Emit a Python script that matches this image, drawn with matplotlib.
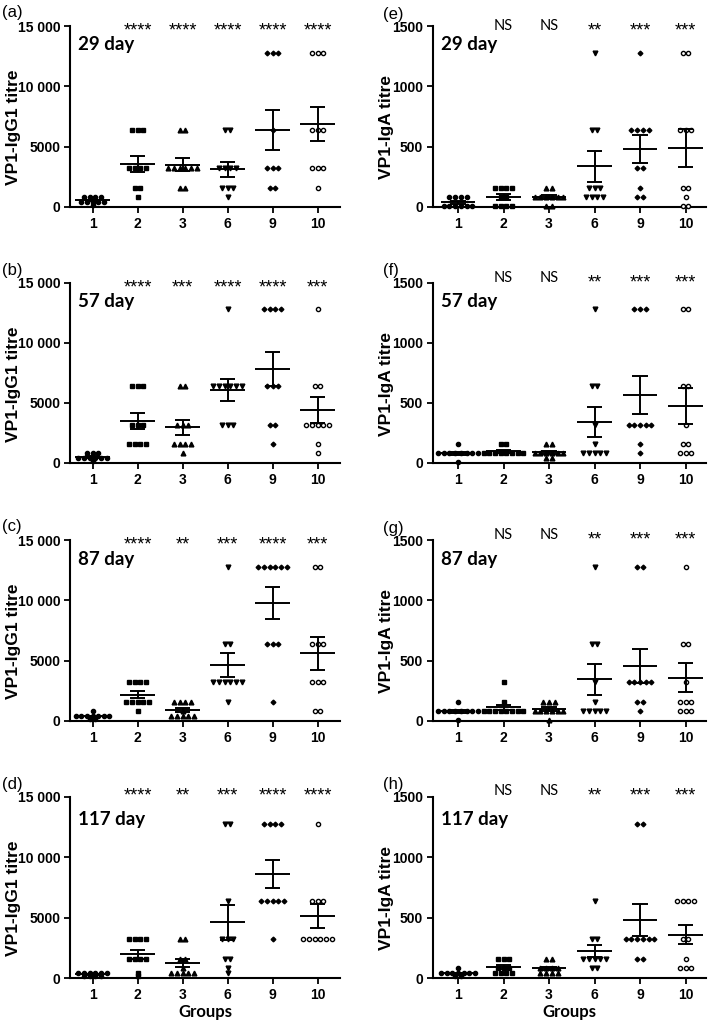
import numpy as np
import matplotlib
matplotlib.use("Agg")
import matplotlib.pyplot as plt

groups = ["1", "2", "3", "6", "9", "10"]
markers = ["o", "s", "^", "v", "D", "o"]
days = ["29 day", "57 day", "87 day", "117 day"]

# IgG1 titres per group (1, 2, 3, 6, 9, 10)
igg1_d29 = [
    [800, 800, 800, 800, 400, 400, 400, 400, 400, 200],
    [6400, 6400, 6400, 3200, 3200, 3200, 3200, 1600, 1600, 800],
    [6400, 6400, 3200, 3200, 3200, 3200, 3200, 3200, 1600, 1600],
    [6400, 6400, 3200, 3200, 3200, 3200, 1600, 1600, 1600, 800],
    [12800, 12800, 12800, 6400, 3200, 3200, 3200, 1600, 1600],
    [12800, 12800, 12800, 6400, 6400, 6400, 3200, 3200, 3200, 1600],
]
igg1_d57 = [
    [800, 800, 800, 400, 400, 400, 400, 400, 400, 200],
    [6400, 6400, 6400, 3200, 3200, 3200, 1600, 1600, 1600, 1600],
    [6400, 6400, 3200, 3200, 3200, 1600, 1600, 1600, 1600, 800],
    [12800, 6400, 6400, 6400, 6400, 6400, 6400, 3200, 3200, 3200],
    [12800, 12800, 12800, 12800, 6400, 6400, 6400, 3200, 3200, 1600],
    [12800, 6400, 6400, 3200, 3200, 3200, 3200, 3200, 1600, 800],
]
igg1_d87 = [
    [800, 400, 400, 400, 400, 400, 400, 400, 200, 200],
    [3200, 3200, 3200, 3200, 1600, 1600, 1600, 1600, 1600, 800],
    [1600, 1600, 1600, 1600, 800, 400, 400, 400, 400, 400],
    [12800, 6400, 6400, 3200, 3200, 3200, 3200, 3200, 3200, 1600],
    [12800, 12800, 12800, 12800, 12800, 12800, 6400, 6400, 6400, 1600],
    [12800, 12800, 6400, 6400, 6400, 3200, 3200, 3200, 800, 800],
]
igg1_d117 = [
    [400, 400, 400, 400, 400, 400, 200, 200, 200, 200],
    [3200, 3200, 3200, 3200, 1600, 1600, 1600, 1600, 400, 200],
    [3200, 3200, 1600, 1600, 800, 400, 400, 400, 400, 400],
    [12800, 12800, 6400, 3200, 3200, 3200, 1600, 1600, 800, 400],
    [12800, 12800, 12800, 12800, 6400, 6400, 6400, 6400, 6400, 3200],
    [12800, 6400, 6400, 6400, 3200, 3200, 3200, 3200, 3200, 3200],
]

# IgA titres per group
iga_d29 = [
    [80, 80, 80, 80, 10, 10, 10, 10, 10, 10],
    [160, 160, 160, 160, 80, 80, 10, 10, 10, 10],
    [160, 160, 80, 80, 80, 80, 80, 80, 10, 10],
    [1280, 640, 640, 160, 160, 160, 80, 80, 80, 80],
    [1280, 640, 640, 640, 640, 320, 320, 160, 80, 80],
    [1280, 1280, 640, 640, 640, 160, 160, 80, 10, 10],
]
iga_d57 = [
    [160, 80, 80, 80, 80, 80, 80, 80, 80, 10],
    [160, 160, 80, 80, 80, 80, 80, 80, 80, 80],
    [160, 160, 80, 80, 80, 80, 80, 80, 40, 40],
    [1280, 640, 640, 320, 160, 80, 80, 80, 80, 80],
    [1280, 1280, 1280, 320, 320, 320, 320, 320, 160, 80],
    [1280, 1280, 640, 640, 320, 160, 160, 80, 80, 80],
]
iga_d87 = [
    [160, 80, 80, 80, 80, 80, 80, 80, 80, 10],
    [320, 160, 80, 80, 80, 80, 80, 80, 80, 80],
    [160, 160, 160, 80, 80, 80, 80, 80, 80, 10],
    [1280, 640, 640, 320, 160, 80, 80, 80, 80, 80],
    [1280, 1280, 320, 320, 320, 320, 320, 160, 160, 80],
    [1280, 640, 640, 320, 160, 160, 160, 80, 80, 80],
]
iga_d117 = [
    [80, 40, 40, 40, 40, 40, 40, 40, 20, 20],
    [160, 160, 160, 80, 80, 80, 40, 40, 40, 40],
    [160, 160, 80, 80, 80, 80, 40, 40, 40, 40],
    [640, 320, 320, 160, 160, 160, 160, 160, 80, 80],
    [1280, 1280, 320, 320, 320, 320, 320, 320, 160, 160],
    [640, 640, 640, 640, 320, 320, 160, 80, 80, 80],
]

sig_igg1 = [
    ["", "****", "****", "****", "****", "****"],
    ["", "****", "***", "****", "****", "***"],
    ["", "****", "**", "***", "****", "***"],
    ["", "****", "**", "***", "****", "****"],
]
sig_iga = [
    ["", "NS", "NS", "**", "***", "***"],
    ["", "NS", "NS", "**", "***", "***"],
    ["", "NS", "NS", "**", "***", "***"],
    ["", "NS", "NS", "**", "***", "***"],
]

igg1 = [igg1_d29, igg1_d57, igg1_d87, igg1_d117]
iga = [iga_d29, iga_d57, iga_d87, iga_d117]

W, H = 709, 1024
fig = plt.figure(figsize=(W / 100, H / 100), dpi=100)

tops = [26, 283, 540, 797]
bots = [207, 463, 721, 978]
left_letters = ["(a)", "(b)", "(c)", "(d)"]
right_letters = ["(e)", "(f)", "(g)", "(h)"]
day_y = [0.9, 0.9, 0.895, 0.873]
star_y = [0.946, 0.946, 0.946, 0.979]   # baseline of stars, fraction of ymax
ns_y = [1.0, 1.028, 1.028, 1.032]       # centre of stars/NS on IgA panels


def draw_panel(ax, data, sig, ymax, yticks, ylabels, ylabel, day, xlim, dy, sy):
    for i, vals in enumerate(data):
        vals = np.array(vals, dtype=float)
        m = markers[i]
        face = "white" if i == 5 else "black"
        ms = {"o": 3.0, "s": 3.0, "^": 3.4, "v": 3.4, "D": 2.4}[m]
        for u in np.unique(vals):
            c = int(np.sum(vals == u))
            xs = i + (np.arange(c) - (c - 1) / 2) * 0.125
            ax.plot(xs, [u] * c, ls="none", marker=m, ms=ms, mfc=face,
                    mec="black", mew=1.0, clip_on=False, zorder=3)
        mean = vals.mean()
        sem = vals.std(ddof=1) / np.sqrt(len(vals))
        ax.hlines(mean, i - 0.38, i + 0.38, color="black", lw=1.4, zorder=4)
        ax.vlines(i, mean - sem, mean + sem, color="black", lw=1.4, zorder=4)
        ax.hlines([mean - sem, mean + sem], i - 0.17, i + 0.17,
                  color="black", lw=1.4, zorder=4)
        if sig[i]:
            if sig[i] == "NS":
                ax.text(i, ymax * sy, sig[i], ha="center", va="center",
                        fontsize=10.5, family="Lato")
            elif ymax < 10000:
                ax.text(i, ymax * (sy - 0.054), sig[i], ha="center",
                        va="baseline", fontsize=13, family="Liberation Sans")
            else:
                ax.text(i, ymax * sy, sig[i], ha="center", va="baseline",
                        fontsize=13, family="Liberation Sans")
    ax.set_xlim(*xlim)
    ax.set_ylim(0, ymax)
    ax.set_xticks(range(len(groups)))
    ax.set_xticklabels(groups)
    ax.set_yticks(yticks)
    ax.set_yticklabels(ylabels)
    for s in ["top", "right"]:
        ax.spines[s].set_visible(False)
    for s in ["left", "bottom"]:
        ax.spines[s].set_linewidth(1.5)
    ax.tick_params(width=1.3, length=4, labelsize=10, pad=3)
    for lab in ax.get_xticklabels() + ax.get_yticklabels():
        lab.set_fontweight("bold")
        lab.set_family("Liberation Sans")
    ax.set_ylabel(ylabel, fontsize=12.5, fontweight="bold", family="Liberation Sans")
    ax.text(0.03, dy, day, transform=ax.transAxes, ha="left", va="center",
            fontsize=13.5, fontweight="bold", family="Lato")


for r in range(4):
    b = 1 - bots[r] / H
    h = (bots[r] - tops[r]) / H
    axl = fig.add_axes([70 / W, b, 270 / W, h])
    draw_panel(axl, igg1[r], sig_igg1[r], 15000, [0, 5000, 10000, 15000],
               ["0", "5000", "10 000", "15 000"], "VP1-IgG1 titre", days[r],
               (-0.5, 5.5), day_y[r], star_y[r])
    axl.yaxis.set_label_coords(-0.18, 0.44)
    axr = fig.add_axes([433 / W, b, 273 / W, h])
    draw_panel(axr, iga[r], sig_iga[r], 1500, [0, 500, 1000, 1500],
               ["0", "500", "1000", "1500"], "VP1-IgA titre", days[r],
               (-0.55, 5.45), day_y[r], ns_y[r])
    axr.yaxis.set_label_coords(-0.143, 0.44)
    fig.text(2 / W, 1 - (tops[r] - 13) / H, left_letters[r], fontsize=12,
             va="center", ha="left", family="Liberation Sans")
    fig.text(383 / W, 1 - (tops[r] - 12) / H, right_letters[r], fontsize=12,
             va="center", ha="left", family="Liberation Sans")
    if r == 3:
        for ax in (axl, axr):
            ax.set_xlabel("Groups", fontsize=12, fontweight="bold",
                          family="Lato", labelpad=2)

fig.savefig("out.png", dpi=100)
